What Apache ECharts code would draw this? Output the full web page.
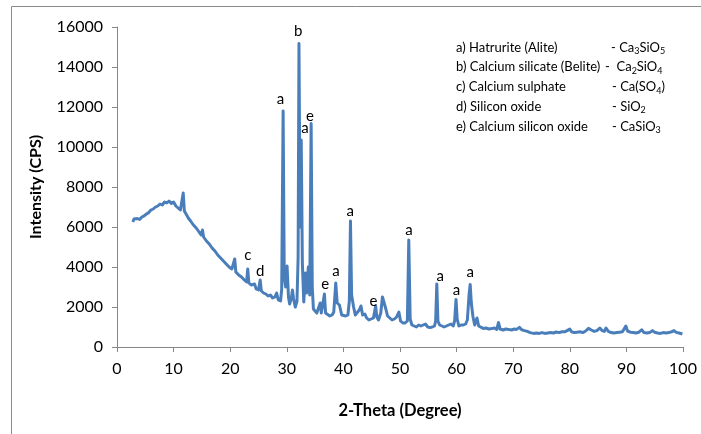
<!DOCTYPE html>
<html>
<head>
<meta charset="utf-8">
<script src="https://cdn.jsdelivr.net/npm/echarts@6/dist/echarts.min.js"></script>
<style>
html,body{margin:0;padding:0;background:#fff;}
#chart{width:701px;height:434px;}
</style>
</head>
<body>
<div id="chart"></div>
<script>
const twoTheta = [2.8,3.0,3.3,3.6,4.0,4.4,4.8,5.2,5.6,6.0,6.4,6.8,7.2,7.6,8.0,8.4,8.8,9.2,9.6,10.0,10.4,10.8,11.2,11.5,11.7,11.9,12.2,12.6,13.0,13.5,14.0,14.5,14.9,15.1,15.3,15.8,16.3,16.8,17.3,17.8,18.3,18.8,19.3,19.8,20.3,20.6,20.8,21.0,21.5,22.0,22.5,22.9,23.1,23.3,23.7,24.0,24.3,24.6,25.0,25.3,25.5,25.9,26.3,26.7,27.1,27.5,27.9,28.2,28.5,28.9,29.1,29.35,29.55,29.8,30.05,30.3,30.5,30.8,31.0,31.2,31.5,31.8,32.0,32.15,32.35,32.55,32.75,33.0,33.3,33.5,33.8,34.05,34.3,34.5,34.7,35.0,35.3,35.6,35.9,36.1,36.4,36.65,36.85,37.2,37.6,38.0,38.3,38.65,38.9,39.3,39.7,40.0,40.4,40.8,41.05,41.25,41.45,41.8,42.1,42.4,42.8,43.1,43.4,43.8,44.1,44.5,44.9,45.3,45.7,45.9,46.2,46.6,46.9,47.2,47.5,47.8,48.2,48.6,49.0,49.4,49.8,50.1,50.5,50.9,51.3,51.55,51.8,52.1,52.5,52.9,53.3,53.7,54.1,54.5,54.9,55.3,55.7,56.1,56.3,56.5,56.7,57.0,57.4,57.8,58.2,58.6,59.0,59.4,59.65,59.9,60.1,60.4,60.8,61.2,61.6,61.9,62.2,62.4,62.6,62.9,63.2,63.6,63.9,64.2,64.7,65.2,65.7,66.2,66.7,67.1,67.4,67.7,68.2,68.7,69.2,69.7,70.2,70.6,71.1,71.5,72.0,72.5,73.0,73.6,74.1,74.6,75.1,75.6,76.1,76.6,77.1,77.6,78.1,78.6,79.1,79.6,80.0,80.3,80.8,81.3,81.8,82.3,82.8,83.3,83.8,84.3,84.8,85.3,85.7,86.1,86.4,86.8,87.3,87.8,88.3,88.8,89.3,89.6,89.9,90.2,90.7,91.2,91.7,92.2,92.7,93.1,93.6,94.1,94.6,95.0,95.5,96.0,96.5,97.0,97.5,98.0,98.4,98.8,99.3,99.9];
const intensity = [6250,6400,6300,6420,6380,6500,6560,6650,6720,6850,6900,7000,7050,7150,7100,7250,7200,7300,7180,7250,7050,6950,6850,6950,7700,6800,6700,6450,6300,6100,5950,5750,5600,5850,5500,5300,5150,4950,4800,4600,4450,4300,4150,4000,3900,3800,4400,3750,3600,3500,3350,3250,3900,3200,3100,3000,3150,2900,2850,3350,2800,2700,2650,2550,2600,2450,2500,2700,2350,2300,2900,11800,3500,3000,4050,2500,2150,2450,2850,2400,2000,2300,4500,15180,6000,10350,4200,2250,3700,2700,4000,2600,11180,3000,1900,1850,1700,1800,2200,1700,1800,2650,1700,1650,1550,1600,1750,3200,2200,2100,1600,1500,1550,1600,2300,6300,2600,2000,1600,1550,1850,2050,1600,1650,1450,1350,1400,1450,2050,1500,1350,1700,2500,2200,1900,1550,1450,1350,1400,1500,1750,1300,1200,1200,1300,5350,1400,1100,1050,1000,1100,1050,1100,1150,1000,970,1000,1050,1300,3150,1300,1100,1050,1000,1050,1100,1150,1050,1300,2380,1400,1050,1100,1100,1150,1350,2600,3130,2200,1500,1100,1450,1050,950,930,950,900,920,950,880,1220,900,850,900,880,850,900,880,980,860,820,780,720,680,700,680,720,680,700,720,700,750,720,760,760,830,900,760,720,740,760,720,800,930,850,780,820,950,820,780,950,780,720,700,720,740,760,850,1050,800,740,720,700,740,860,720,700,720,820,740,700,680,720,700,720,760,820,730,700,650];

// Peak annotation letters placed in data space
const peakLetters = ['c','d','a','b','a','e','e','a','a','e','a','a','a','a'];
const peakLabelX  = [23.1,25.3,28.9,32.0,33.2,34.1,36.8,38.7,41.2,45.3,51.6,57.1,60.0,62.4];
const peakLabelY  = [4600,3800,12380,15770,10930,11520,3130,3770,6770,2300,5850,3550,2820,3720];

// Phase legend
const phaseNames = ['a) Hatrurite (Alite)','b) Calcium silicate (Belite)','c) Calcium sulphate','d) Silicon oxide','e) Calcium silicon oxide'];
const phaseFormulas = ['- Ca{s|3}SiO{s|5}','-  Ca{s|2}SiO{s|4}','- Ca(SO{s|4})','- SiO{s|2}','- CaSiO{s|3}'];

// Axis ticks
const xMin = 0, xMax = 100, xStep = 10;
const yMin = 0, yMax = 16000, yStep = 2000;

const FONT = 'Lato, "Open Sans", sans-serif';
const chart = echarts.init(document.getElementById('chart'), null, {renderer:'canvas'});

const lineData = twoTheta.map((t,i)=>[t,intensity[i]]);
const labelData = peakLetters.map((l,i)=>[peakLabelX[i],peakLabelY[i],l]);

const legendTop = 49, legendStep = 19.8;
const formulaX = [611,605,612,612,612];
const graphics = [{
  type:'rect', silent:true,
  shape:{x:11.5,y:6.5,width:720,height:460},
  style:{fill:'none',stroke:'#8a8a8a',lineWidth:1}
}];
phaseNames.forEach((n,i)=>{
  graphics.push({type:'text', left:456, top:legendTop+i*legendStep-8,
    style:{text:n, font:'13px '+FONT, fill:'#000'}});
  graphics.push({type:'text', left:formulaX[i], top:legendTop+i*legendStep-8,
    style:{text:phaseFormulas[i], fontFamily:FONT, fontSize:13, fill:'#000',
      rich:{s:{fontFamily:FONT,fontSize:9,fill:'#000',padding:[7,0,0,0]}}}});
});

chart.setOption({
  animation:false,
  backgroundColor:'#fff',
  textStyle:{fontFamily:FONT},
  grid:{left:117,right:18,top:27,bottom:87,containLabel:false},
  xAxis:{
    type:'value', min:xMin, max:xMax, interval:xStep,
    name:'2-Theta (Degree)', nameLocation:'middle', nameGap:55,
    nameTextStyle:{fontFamily:FONT,fontSize:16.5,fontWeight:'bold',color:'#000'},
    axisLine:{show:true,onZero:false,lineStyle:{color:'#868686',width:1}},
    axisTick:{show:true,length:5,lineStyle:{color:'#868686'}},
    axisLabel:{fontFamily:FONT,fontSize:16,color:'#000',margin:14},
    splitLine:{show:false}
  },
  yAxis:{
    type:'value', min:yMin, max:yMax, interval:yStep,
    name:'Intensity (CPS)', nameLocation:'middle', nameGap:73, nameRotate:90,
    nameTextStyle:{fontFamily:FONT,fontSize:16,fontWeight:'bold',color:'#000'},
    axisLine:{show:true,lineStyle:{color:'#868686',width:1}},
    axisTick:{show:true,length:5,lineStyle:{color:'#868686'}},
    axisLabel:{fontFamily:FONT,fontSize:16,color:'#000',margin:14,formatter:v=>String(v)},
    splitLine:{show:false}
  },
  series:[{
    type:'line', data:lineData, showSymbol:false, symbol:'none',
    lineStyle:{color:'#4a7ebb',width:3,join:'round'}, z:2
  },{
    type:'scatter', data:labelData, symbolSize:0,
    itemStyle:{color:'rgba(0,0,0,0)',opacity:1},
    label:{show:true,position:'inside',formatter:p=>p.data[2],
      fontFamily:FONT,fontSize:15,color:'#000',opacity:1},
    emphasis:{disabled:true},
    z:3, silent:true
  }],
  graphic:graphics
});
</script>
</body>
</html>
